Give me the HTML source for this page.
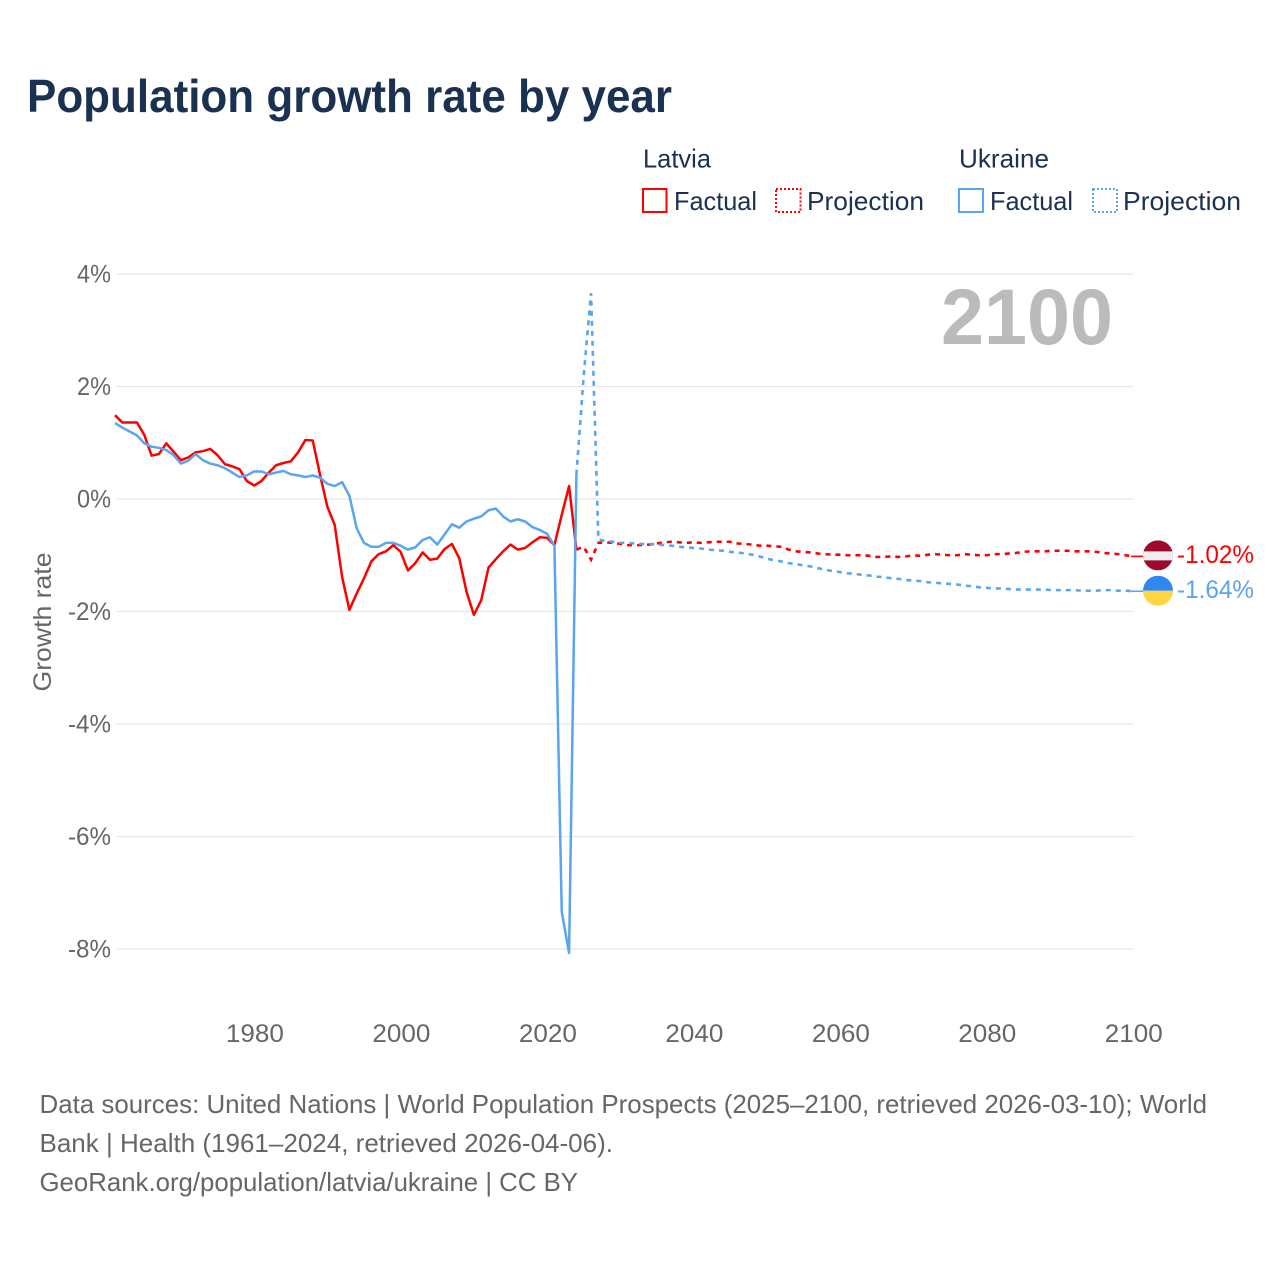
<!DOCTYPE html>
<html lang="en">
<head>
<meta charset="utf-8">
<title>Population growth rate by year</title>
<style>
html,body{margin:0;padding:0;background:#fff;}
svg{display:block;}
text{font-family:"Liberation Sans",sans-serif;}
</style>
</head>
<body>
<svg id="chart" xmlns="http://www.w3.org/2000/svg" width="1280" height="1280" viewBox="0 0 1280 1280">
  <rect x="0" y="0" width="1280" height="1280" fill="#fff"/>
  <text x="27" y="112" font-size="46" font-weight="bold" fill="#1a3152" textLength="645" lengthAdjust="spacingAndGlyphs">Population growth rate by year</text>

  <g font-size="26" fill="#1a3152">
    <text x="643" y="167.5" textLength="68" lengthAdjust="spacingAndGlyphs">Latvia</text>
    <rect x="643" y="189" width="23.5" height="23" fill="none" stroke="#ff0000" stroke-width="2"/>
    <text x="674" y="210" textLength="83" lengthAdjust="spacingAndGlyphs">Factual</text>
    <rect x="776" y="189" width="24.5" height="23" fill="none" stroke="#ff0000" stroke-width="2" stroke-dasharray="2,2"/>
    <text x="807" y="210" textLength="117" lengthAdjust="spacingAndGlyphs">Projection</text>
    <text x="959" y="167.5" textLength="90" lengthAdjust="spacingAndGlyphs">Ukraine</text>
    <rect x="959" y="189" width="24" height="23" fill="none" stroke="#5ba4f0" stroke-width="2"/>
    <text x="990" y="210" textLength="83" lengthAdjust="spacingAndGlyphs">Factual</text>
    <rect x="1093" y="189" width="24" height="23" fill="none" stroke="#5ba4f0" stroke-width="2" stroke-dasharray="2,2"/>
    <text x="1123" y="210" textLength="118" lengthAdjust="spacingAndGlyphs">Projection</text>
  </g>

  <g id="grid"></g>
  <text x="941" y="344" font-size="79" font-weight="bold" fill="#bbbbbb" textLength="172" lengthAdjust="spacingAndGlyphs">2100</text>
  <g id="yticks" font-size="25" fill="#666666"></g>
  <g id="xticks" font-size="25" fill="#666666"></g>
  <text transform="translate(51,622) rotate(-90)" text-anchor="middle" font-size="25" fill="#666666" textLength="139" lengthAdjust="spacingAndGlyphs">Growth rate</text>
  <g id="series"></g>
  <g id="ends"></g>

  <g font-size="26" fill="#666666">
    <text x="39.5" y="1113" textLength="1167.5" lengthAdjust="spacingAndGlyphs">Data sources: United Nations | World Population Prospects (2025–2100, retrieved 2026-03-10); World</text>
    <text x="39.5" y="1152" textLength="573.5" lengthAdjust="spacingAndGlyphs">Bank | Health (1961–2024, retrieved 2026-04-06).</text>
    <text x="39.5" y="1191" textLength="538.5" lengthAdjust="spacingAndGlyphs">GeoRank.org/population/latvia/ukraine | CC BY</text>
  </g>
</svg>
<script>
const xTickYears = [1980, 2000, 2020, 2040, 2060, 2080, 2100];
const yTickValues = [4, 2, 0, -2, -4, -6, -8];
const factualStartYear = 1961;
const projectionStartYear = 2024;
const latviaFactual = [
  1.49, 1.36, 1.36, 1.36, 1.14, 0.77, 0.80, 0.99, 0.84,
  0.69, 0.74, 0.83, 0.85, 0.89, 0.78, 0.62, 0.58, 0.53, 0.32,
  0.24, 0.32, 0.47, 0.60, 0.64, 0.67, 0.83, 1.05, 1.04, 0.43,
  -0.14, -0.46, -1.38, -1.97, -1.68, -1.41, -1.11, -0.98, -0.93, -0.82,
  -0.94, -1.27, -1.14, -0.95, -1.08, -1.06, -0.89, -0.80, -1.05, -1.65,
  -2.06, -1.80, -1.22, -1.07, -0.93, -0.81, -0.90, -0.87, -0.77, -0.68,
  -0.69, -0.82, -0.28, 0.23, -0.90
];
const ukraineFactual = [
  1.35, 1.27, 1.20, 1.13, 0.99, 0.93, 0.91, 0.87, 0.78,
  0.63, 0.68, 0.80, 0.69, 0.63, 0.60, 0.55, 0.47, 0.39, 0.42,
  0.49, 0.49, 0.44, 0.47, 0.50, 0.44, 0.42, 0.39, 0.42, 0.38,
  0.27, 0.23, 0.30, 0.06, -0.52, -0.78, -0.85, -0.85, -0.78, -0.78,
  -0.83, -0.90, -0.86, -0.73, -0.68, -0.81, -0.63, -0.45, -0.51, -0.40,
  -0.35, -0.31, -0.20, -0.17, -0.31, -0.40, -0.36, -0.40, -0.50, -0.55,
  -0.62, -0.83, -7.34, -8.07, 0.43
];
const latviaProjection = [
  -0.90, -0.85, -1.08, -0.78, -0.77, -0.78,
  -0.80, -0.82, -0.82, -0.82, -0.81, -0.79, -0.77, -0.76, -0.77, -0.78,
  -0.77, -0.78, -0.77, -0.76, -0.76, -0.76, -0.79, -0.80, -0.81, -0.83,
  -0.83, -0.84, -0.85, -0.90, -0.93, -0.94, -0.95, -0.97, -0.98, -0.99,
  -0.99, -1.00, -1.00, -1.00, -1.01, -1.03, -1.03, -1.02, -1.03, -1.02,
  -1.00, -1.01, -0.99, -0.98, -0.99, -1.00, -1.00, -0.98, -0.99, -1.00,
  -1.00, -0.98, -0.98, -0.97, -0.96, -0.94, -0.93, -0.93, -0.93, -0.92,
  -0.92, -0.92, -0.93, -0.93, -0.93, -0.94, -0.96, -0.97, -0.98, -1.00,
  -1.02
];
const ukraineProjection = [
  0.43, 2.20, 3.66, -0.72, -0.75, -0.76,
  -0.78, -0.78, -0.79, -0.80, -0.80, -0.81, -0.82, -0.83, -0.85, -0.86,
  -0.87, -0.88, -0.90, -0.91, -0.92, -0.94, -0.95, -0.97, -0.99, -1.02,
  -1.06, -1.09, -1.11, -1.14, -1.16, -1.18, -1.20, -1.23, -1.26, -1.28,
  -1.30, -1.32, -1.33, -1.35, -1.36, -1.38, -1.39, -1.41, -1.42, -1.44,
  -1.45, -1.46, -1.48, -1.49, -1.50, -1.51, -1.52, -1.54, -1.55, -1.57,
  -1.58, -1.59, -1.59, -1.60, -1.61, -1.61, -1.61, -1.61, -1.61, -1.62,
  -1.62, -1.62, -1.62, -1.63, -1.63, -1.63, -1.62, -1.62, -1.63, -1.63,
  -1.64
];

const NS = 'http://www.w3.org/2000/svg';
const RED = '#ff0000';
const BLUE = '#5ba4f0';
const xScale = year => 115 + (year - 1961) * (1133 - 115) / (2100 - 1961);
const yScale = value => 499 - value * 56.25;
const labelWidth = s => {
  let w = 0;
  for (const c of s) w += c === '%' ? 19.5 : c === '-' ? 9 : c === '.' ? 5.5 : 14.5;
  return w;
};
const make = (tag, attrs, parent) => {
  const el = document.createElementNS(NS, tag);
  for (const k in attrs) el.setAttribute(k, attrs[k]);
  parent.appendChild(el);
  return el;
};

const gridGroup = document.getElementById('grid');
const yGroup = document.getElementById('yticks');
yTickValues.forEach(v => {
  const line = make('line', {x1: 116, x2: 1133, y1: yScale(v), y2: yScale(v), stroke: '#e7e7e7', 'stroke-width': 1.2}, gridGroup);
  
  
  const s = v + '%';
  const t = make('text', {x: 111, y: yScale(v) + 8.5, 'text-anchor': 'end', textLength: labelWidth(s), lengthAdjust: 'spacingAndGlyphs'}, yGroup);
  
  
  t.textContent = s;
});

const xGroup = document.getElementById('xticks');
xTickYears.forEach(y => {
  const t = make('text', {x: xScale(y) + 0.8, y: 1042, 'text-anchor': 'middle', textLength: 58, lengthAdjust: 'spacingAndGlyphs'}, xGroup);
  
  
  t.textContent = String(y);
});

const seriesGroup = document.getElementById('series');
const pathFor = (values, startYear) =>
  values.map((v, i) => (i ? 'L' : 'M') + xScale(startYear + i).toFixed(2) + ' ' + yScale(v).toFixed(2)).join(' ');

const latviaProjLine = make('path', {d: pathFor(latviaProjection, projectionStartYear), fill: 'none', stroke: RED, 'stroke-width': 2.6, 'stroke-dasharray': '5,5'}, seriesGroup);


const latviaLine = make('path', {d: pathFor(latviaFactual, factualStartYear), fill: 'none', stroke: RED, 'stroke-width': 2.5, 'stroke-linejoin': 'round'}, seriesGroup);


const ukraineProjLine = make('path', {d: pathFor(ukraineProjection, projectionStartYear), fill: 'none', stroke: BLUE, 'stroke-width': 2.6, 'stroke-dasharray': '5,5'}, seriesGroup);


const ukraineLine = make('path', {d: pathFor(ukraineFactual, factualStartYear), fill: 'none', stroke: BLUE, 'stroke-width': 2.5, 'stroke-linejoin': 'round'}, seriesGroup);



const ends = document.getElementById('ends');
const latviaEnd = latviaProjection[latviaProjection.length - 1];
const ukraineEnd = ukraineProjection[ukraineProjection.length - 1];
const cx = 1158;
const ly = yScale(latviaEnd) - 1;
const uy = yScale(ukraineEnd) - 0.5;

const latviaLeader = make('line', {x1: 1131, x2: 1144, y1: yScale(latviaEnd), y2: yScale(latviaEnd), stroke: RED, 'stroke-width': 1.6}, ends);


const ukraineLeader = make('line', {x1: 1131, x2: 1144, y1: yScale(ukraineEnd), y2: yScale(ukraineEnd), stroke: BLUE, 'stroke-width': 1.6}, ends);



const defs = make('defs', {}, ends);
const clipL = make('clipPath', {id: 'clip-latvia'}, defs);
make('circle', {cx: cx, cy: ly, r: 15}, clipL);
const clipU = make('clipPath', {id: 'clip-ukraine'}, defs);
make('circle', {cx: cx, cy: uy, r: 15}, clipU);

const latviaFlag = make('g', {'clip-path': 'url(#clip-latvia)'}, ends);


make('rect', {x: cx - 15, y: ly - 15, width: 30, height: 30, fill: '#9e0a2b'}, latviaFlag);
make('rect', {x: cx - 15, y: ly - 4, width: 30, height: 9, fill: '#eeeeee'}, latviaFlag);

const ukraineFlag = make('g', {'clip-path': 'url(#clip-ukraine)'}, ends);


make('rect', {x: cx - 15, y: uy - 15, width: 30, height: 15, fill: '#2f88f0'}, ukraineFlag);
make('rect', {x: cx - 15, y: uy, width: 30, height: 15, fill: '#ffd540'}, ukraineFlag);

const latviaLabelText = latviaEnd.toFixed(2) + '%';
const latviaLabel = make('text', {x: 1177, y: yScale(latviaEnd) + 6.5, 'font-size': 25, fill: RED, textLength: 77, lengthAdjust: 'spacingAndGlyphs'}, ends);


latviaLabel.textContent = latviaLabelText;

const ukraineLabelText = ukraineEnd.toFixed(2) + '%';
const ukraineLabel = make('text', {x: 1177, y: yScale(ukraineEnd) + 6.5, 'font-size': 25, fill: BLUE, textLength: 77, lengthAdjust: 'spacingAndGlyphs'}, ends);


ukraineLabel.textContent = ukraineLabelText;
</script>
</body>
</html>
